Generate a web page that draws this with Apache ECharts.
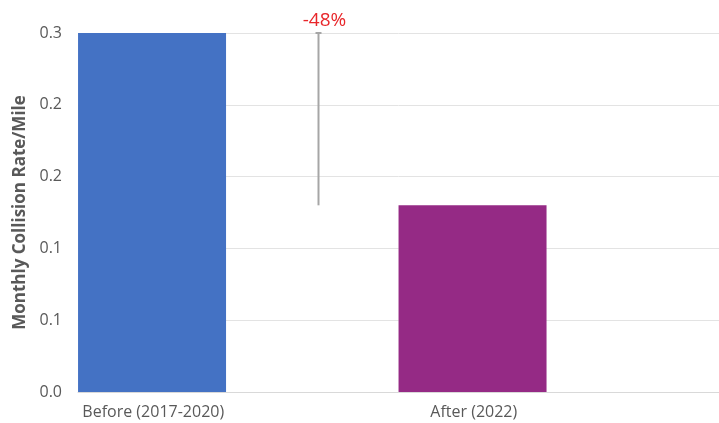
<!DOCTYPE html>
<html>
<head>
<meta charset="utf-8">
<script src="https://cdn.jsdelivr.net/npm/echarts@6/dist/echarts.min.js"></script>
<style>
  html, body { margin: 0; padding: 0; background: #fff; }
  #chart { width: 719px; height: 423px; }
</style>
</head>
<body>
<div id="chart"></div>
<script>
// Monthly collision rate per mile, before vs after
const categories = ['Before (2017-2020)', 'After (2022)'];
const rates = [0.3, 0.156];
const barColors = ['#4472C4', '#952A85'];
const yAxisTitle = 'Monthly Collision Rate/Mile';

const changePct = Math.round((rates[1] / rates[0] - 1) * 100);
const changeLabel = (changePct > 0 ? '+' : '') + changePct + '%';

const font = '"Open Sans", "Noto Sans", sans-serif';
const chart = echarts.init(document.getElementById('chart'), null, { renderer: 'canvas' });

chart.setOption({
  animation: false,
  grid: { left: 78, right: 0, top: 33, bottom: 31, containLabel: false },
  xAxis: {
    type: 'category',
    data: categories,
    axisLine: { show: true, lineStyle: { color: '#d9d9d9', width: 1 } },
    axisTick: { show: false },
    axisLabel: {
      margin: 12,
      color: '#595959',
      fontFamily: font,
      fontSize: 16,
      formatter: v => '{t|' + v + '}',
      rich: { t: { padding: [0, 170, 0, 0], color: '#595959', fontFamily: font, fontSize: 16 } }
    }
  },
  yAxis: {
    type: 'value',
    min: 0,
    max: 0.3,
    interval: 0.06,
    name: yAxisTitle,
    nameLocation: 'middle',
    nameGap: 42,
    nameTextStyle: { color: '#595959', fontFamily: font, fontSize: 17, fontWeight: 'bold' },
    axisLine: { show: false },
    axisTick: { show: false },
    axisLabel: {
      margin: 16,
      color: '#595959',
      fontFamily: font,
      fontSize: 16,
      formatter: v => v.toFixed(1)
    },
    splitLine: { lineStyle: { color: '#e3e3e3', width: 1 } }
  },
  series: [
    {
      type: 'bar',
      data: rates.map((v, i) => ({ value: v, itemStyle: { color: barColors[i] } })),
      barWidth: 148,
      barGap: '16.5%'
    },
    {
      type: 'bar',
      data: categories.map(() => null),
      barWidth: 148
    },
    {
      type: 'custom',
      data: [[0, rates[0], rates[1]]],
      z: 5,
      renderItem: (params, api) => {
        const band = api.size([1, 0])[0];
        const x = Math.round(api.coord([api.value(0), 0])[0] + band * 0.25) + 0.5;
        const yTop = api.coord([0, api.value(1)])[1];
        const yBot = api.coord([0, api.value(2)])[1];
        const stroke = { stroke: '#a6a6a6', lineWidth: 2 };
        return {
          type: 'group',
          children: [
            { type: 'line', shape: { x1: x, y1: yTop, x2: x, y2: yBot }, style: stroke },
            { type: 'line', shape: { x1: x - 3, y1: yTop, x2: x + 3, y2: yTop }, style: stroke },
            {
              type: 'text',
              style: {
                x: x + 6, y: yTop - 3,
                text: changeLabel,
                fill: '#e8262a',
                font: '19px ' + font,
                textAlign: 'center',
                textVerticalAlign: 'bottom'
              }
            }
          ]
        };
      }
    }
  ]
});
</script>
</body>
</html>
